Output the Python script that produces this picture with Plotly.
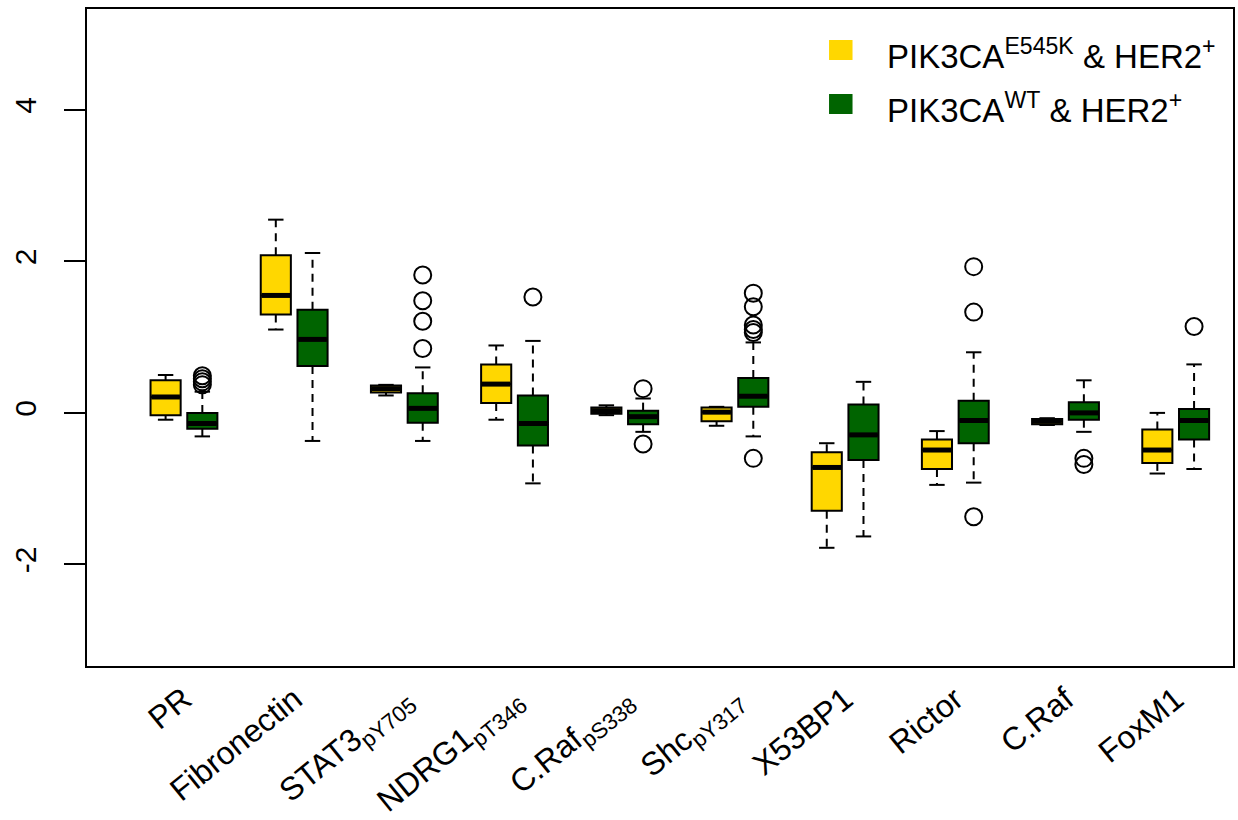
import plotly.graph_objects as go

# ---------------- data ----------------
categories = ["PR", "Fibronectin", "STAT3<sub>pY705</sub>", "NDRG1<sub>pT346</sub>",
              "C.Raf<sub>pS338</sub>", "Shc<sub>pY317</sub>", "X53BP1", "Rictor",
              "C.Raf", "FoxM1"]

# PIK3CA E545K & HER2+ (yellow)
mut_lower = [-0.09, 1.10, 0.23, -0.09, -0.03, -0.17, -1.78, -0.95, -0.16, -0.80]
mut_q1 = [-0.03, 1.30, 0.27, 0.13, -0.01, -0.11, -1.29, -0.74, -0.15, -0.66]
mut_median = [0.21, 1.55, 0.32, 0.38, 0.03, 0.01, -0.72, -0.49, -0.11, -0.49]
mut_q3 = [0.43, 2.08, 0.36, 0.64, 0.07, 0.07, -0.52, -0.35, -0.08, -0.22]
mut_upper = [0.50, 2.55, 0.37, 0.89, 0.10, 0.08, -0.40, -0.24, -0.07, 0.00]
mut_outliers = [[], [], [], [], [], [], [], [], [], []]

# PIK3CA WT & HER2+ (green)
wt_lower = [-0.31, -0.37, -0.37, -0.93, -0.25, -0.31, -1.63, -0.92, -0.25, -0.74]
wt_q1 = [-0.21, 0.62, -0.13, -0.43, -0.15, 0.08, -0.62, -0.40, -0.09, -0.35]
wt_median = [-0.14, 0.97, 0.06, -0.14, -0.05, 0.22, -0.29, -0.10, 0.00, -0.10]
wt_q3 = [0.00, 1.36, 0.26, 0.23, 0.03, 0.46, 0.11, 0.16, 0.14, 0.05]
wt_upper = [0.28, 2.11, 0.60, 0.95, 0.19, 0.93, 0.41, 0.80, 0.43, 0.64]
wt_outliers = [[0.37, 0.41, 0.45, 0.49], [], [1.82, 1.48, 1.21, 0.85], [1.53],
               [0.32, -0.41], [1.58, 1.40, 1.16, 1.10, 1.06, -0.60], [],
               [1.93, 1.33, -1.37], [-0.60, -0.68], [1.14]]

y_ticks = [-2, 0, 2, 4]

# ---------------- styling ----------------
YELLOW = "#FFD700"
GREEN = "#006400"
BOX_W = 0.82
STAPLE_HW = 0.21
FONT = "Liberation Sans, Arial, Helvetica, sans-serif"

n = len(categories)
pos_mut = [3 * i + 1 for i in range(n)]
pos_wt = [3 * i + 2 for i in range(n)]
centers = [3 * i + 1.5 for i in range(n)]

fig = go.Figure()


def add_group(pos, lower, q1, med, q3, upper, outl, color):
    wx, wy, sx, sy, mx, my = [], [], [], [], [], []
    for p, lo, a, m, b, up in zip(pos, lower, q1, med, q3, upper):
        wx += [p, p, None, p, p, None]
        wy += [b, up, None, a, lo, None]
        sx += [p - STAPLE_HW, p + STAPLE_HW, None, p - STAPLE_HW, p + STAPLE_HW, None]
        sy += [up, up, None, lo, lo, None]
        mx += [p - BOX_W / 2 + 0.02, p + BOX_W / 2 - 0.02, None]
        my += [m, m, None]
    # dashed whiskers
    fig.add_trace(go.Scatter(x=wx, y=wy, mode="lines", showlegend=False, hoverinfo="skip",
                             line=dict(color="black", width=2, dash="8px,6px")))
    # staples
    fig.add_trace(go.Scatter(x=sx, y=sy, mode="lines", showlegend=False, hoverinfo="skip",
                             line=dict(color="black", width=2)))
    # boxes
    fig.add_trace(go.Box(x=pos, q1=q1, median=med, q3=q3, lowerfence=q1, upperfence=q3,
                         width=BOX_W, fillcolor=color, line=dict(color="black", width=2),
                         boxpoints=False, showlegend=False, whiskerwidth=0))
    # thick medians
    fig.add_trace(go.Scatter(x=mx, y=my, mode="lines", showlegend=False, hoverinfo="skip",
                             line=dict(color="black", width=5)))
    ox, oy = [], []
    for p, vals in zip(pos, outl):
        for v in vals:
            ox.append(p)
            oy.append(v)
    if ox:
        fig.add_trace(go.Scatter(x=ox, y=oy, mode="markers", showlegend=False,
                                 marker=dict(symbol="circle-open", size=17,
                                             color="black", line=dict(width=2))))


add_group(pos_mut, mut_lower, mut_q1, mut_median, mut_q3, mut_upper, mut_outliers, YELLOW)
add_group(pos_wt, wt_lower, wt_q1, wt_median, wt_q3, wt_upper, wt_outliers, GREEN)

# custom legend (squares + text)
legend_items = [("PIK3CA<sup>E545K</sup> & HER2<sup>+</sup>", YELLOW, 0.9376),
                ("PIK3CA<sup>WT</sup> & HER2<sup>+</sup>", GREEN, 0.8554)]
for txt, col, yc in legend_items:
    fig.add_shape(type="rect", xref="paper", yref="paper",
                  x0=0.6475, x1=0.668, y0=yc - 0.0152, y1=yc + 0.0152,
                  fillcolor=col, line=dict(width=0))
    fig.add_annotation(text=txt, xref="paper", yref="paper", x=0.6963, y=yc - 0.006,
                       xanchor="left", yanchor="middle", showarrow=False,
                       font=dict(family=FONT, size=33, color="black"))

fig.update_layout(
    width=1238, height=820,
    margin=dict(l=87, r=5, t=9, b=154, autoexpand=False),
    paper_bgcolor="white", plot_bgcolor="white",
    boxmode="overlay",
    font=dict(family=FONT, color="black"),
    xaxis=dict(range=[-1.14, 30.06], showgrid=False, zeroline=False, automargin=False,
               showline=True, mirror=True, linecolor="black", linewidth=2,
               tickvals=centers, ticktext=categories, ticks="",
               tickangle=-39, tickfont=dict(family=FONT, size=32, color="black"),
               ticklabelstandoff=0),
    yaxis=dict(range=[-3.34, 5.33], showgrid=False, zeroline=False, automargin=False,
               showline=True, mirror=True, linecolor="black", linewidth=2,
               tickvals=y_ticks, ticktext=[str(v) for v in y_ticks],
               ticks="outside", ticklen=21, tickwidth=2, tickcolor="black",
               tickangle=-90, tickfont=dict(family=FONT, size=30, color="black"),
               ticklabelstandoff=16),
)

fig.write_html("out.html", config={"displayModeBar": False},
               post_script="document.body.style.margin='0';")
